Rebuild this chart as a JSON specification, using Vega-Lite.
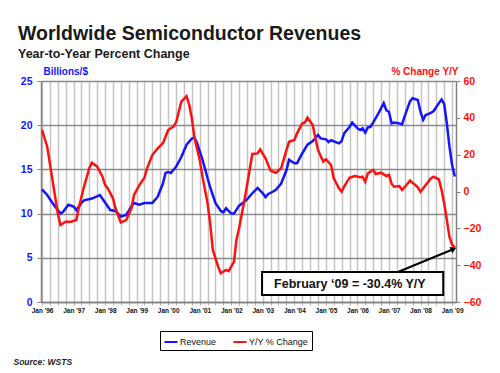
{
  "$schema": "https://vega.github.io/schema/vega-lite/v6.json",
  "width": 415,
  "height": 221,
  "autosize": "none",
  "padding": {"left": 41, "top": 81, "right": 44, "bottom": 71},
  "background": "white",
  "config": {
    "font": "Liberation Sans",
    "view": {"stroke": null},
    "axis": {"labelFont": "Liberation Sans", "titleFont": "Liberation Sans"},
    "axisRight": {
      "values": [-60, -40, -20, 0, 20, 40, 60],
      "grid": false,
      "domainColor": "#808080",
      "domainWidth": 1.5,
      "tickColor": "#808080",
      "tickSize": 4,
      "labelColor": "#ff1010",
      "labelFontSize": 10.5,
      "labelFontWeight": "bold",
      "labelPadding": 3,
      "labelOverlap": false,
      "titleAngle": 0,
      "titleAlign": "right",
      "titleBaseline": "alphabetic",
      "titleX": 2,
      "titleY": -7,
      "titleColor": "#ff1010",
      "titleFontSize": 10,
      "titleFontWeight": "bold"
    }
  },
  "title": {
    "text": "Worldwide Semiconductor Revenues",
    "subtitle": "Year-to-Year Percent Change",
    "anchor": "start",
    "frame": "group",
    "dx": -23,
    "offset": 5,
    "font": "Liberation Sans",
    "fontSize": 19.5,
    "fontWeight": "bold",
    "color": "#1a1a1a",
    "subtitleFont": "Liberation Sans",
    "subtitleFontSize": 12.5,
    "subtitleFontWeight": "bold",
    "subtitleColor": "#1a1a1a",
    "subtitlePadding": 3
  },
  "datasets": {
    "revenue": [
      {"date": "1996-01-01", "v": 12.75}, {"date": "1996-03-01", "v": 12.1}, {"date": "1996-05-01", "v": 11.2},
      {"date": "1996-08-01", "v": 10.0}, {"date": "1996-09-01", "v": 10.2}, {"date": "1996-11-01", "v": 11.0},
      {"date": "1997-01-01", "v": 10.8}, {"date": "1997-02-01", "v": 10.4}, {"date": "1997-04-01", "v": 11.2},
      {"date": "1997-05-01", "v": 11.5}, {"date": "1997-08-01", "v": 11.7}, {"date": "1997-11-01", "v": 12.1},
      {"date": "1998-02-01", "v": 10.8}, {"date": "1998-03-01", "v": 10.4}, {"date": "1998-05-01", "v": 10.3},
      {"date": "1998-07-01", "v": 9.65}, {"date": "1998-09-01", "v": 9.84}, {"date": "1998-11-01", "v": 10.8},
      {"date": "1998-12-01", "v": 11.2}, {"date": "1999-02-01", "v": 11.0}, {"date": "1999-04-01", "v": 11.2},
      {"date": "1999-07-01", "v": 11.2}, {"date": "1999-09-01", "v": 11.9}, {"date": "1999-11-01", "v": 13.4},
      {"date": "1999-12-01", "v": 14.6}, {"date": "2000-01-01", "v": 14.7}, {"date": "2000-02-01", "v": 14.6},
      {"date": "2000-04-01", "v": 15.3}, {"date": "2000-06-01", "v": 16.4}, {"date": "2000-08-01", "v": 17.8},
      {"date": "2000-10-01", "v": 18.5}, {"date": "2000-11-01", "v": 18.6}, {"date": "2000-12-01", "v": 17.95},
      {"date": "2001-02-01", "v": 16.1}, {"date": "2001-04-01", "v": 14.0}, {"date": "2001-05-01", "v": 13.0},
      {"date": "2001-07-01", "v": 11.2}, {"date": "2001-09-01", "v": 10.3}, {"date": "2001-10-01", "v": 10.15},
      {"date": "2001-11-01", "v": 10.6}, {"date": "2002-01-01", "v": 10.0}, {"date": "2002-02-01", "v": 10.0},
      {"date": "2002-04-01", "v": 10.9}, {"date": "2002-06-01", "v": 11.35}, {"date": "2002-07-01", "v": 11.6},
      {"date": "2002-09-01", "v": 12.3}, {"date": "2002-11-01", "v": 12.9}, {"date": "2003-01-01", "v": 12.3},
      {"date": "2003-02-01", "v": 11.85}, {"date": "2003-03-01", "v": 12.2}, {"date": "2003-05-01", "v": 12.5},
      {"date": "2003-06-01", "v": 12.7}, {"date": "2003-08-01", "v": 13.4}, {"date": "2003-10-01", "v": 14.9},
      {"date": "2003-11-01", "v": 16.1}, {"date": "2004-01-01", "v": 15.7}, {"date": "2004-02-01", "v": 15.7},
      {"date": "2004-04-01", "v": 16.8}, {"date": "2004-06-01", "v": 17.8}, {"date": "2004-08-01", "v": 18.2},
      {"date": "2004-10-01", "v": 18.9}, {"date": "2004-11-01", "v": 18.5}, {"date": "2005-01-01", "v": 18.4},
      {"date": "2005-02-01", "v": 18.1}, {"date": "2005-03-01", "v": 18.3}, {"date": "2005-06-01", "v": 17.95},
      {"date": "2005-07-01", "v": 18.2}, {"date": "2005-08-01", "v": 19.1}, {"date": "2005-10-01", "v": 19.8},
      {"date": "2005-11-01", "v": 20.3}, {"date": "2006-01-01", "v": 19.65}, {"date": "2006-02-01", "v": 19.45},
      {"date": "2006-03-01", "v": 19.65}, {"date": "2006-04-01", "v": 19.15}, {"date": "2006-05-01", "v": 19.75},
      {"date": "2006-06-01", "v": 19.8}, {"date": "2006-07-01", "v": 20.3}, {"date": "2006-09-01", "v": 21.35},
      {"date": "2006-11-01", "v": 22.5}, {"date": "2006-12-01", "v": 21.7}, {"date": "2007-01-01", "v": 21.5},
      {"date": "2007-02-01", "v": 20.2}, {"date": "2007-03-01", "v": 20.3}, {"date": "2007-05-01", "v": 20.2},
      {"date": "2007-06-01", "v": 20.1}, {"date": "2007-07-01", "v": 21.0}, {"date": "2007-09-01", "v": 22.7},
      {"date": "2007-10-01", "v": 23.05}, {"date": "2007-12-01", "v": 22.85}, {"date": "2008-01-01", "v": 21.5},
      {"date": "2008-02-01", "v": 20.6}, {"date": "2008-03-01", "v": 21.15}, {"date": "2008-05-01", "v": 21.4},
      {"date": "2008-06-01", "v": 21.6}, {"date": "2008-08-01", "v": 22.5}, {"date": "2008-09-01", "v": 22.9},
      {"date": "2008-10-01", "v": 22.4}, {"date": "2008-11-01", "v": 20.2}, {"date": "2008-12-01", "v": 17.6},
      {"date": "2009-01-01", "v": 15.5}, {"date": "2009-02-01", "v": 14.2}
    ],
    "yoy": [
      {"date": "1996-01-01", "v": 33.4}, {"date": "1996-03-01", "v": 24.3}, {"date": "1996-05-01", "v": 6.2},
      {"date": "1996-07-01", "v": -11.8}, {"date": "1996-08-01", "v": -18.2}, {"date": "1996-10-01", "v": -16.4},
      {"date": "1996-12-01", "v": -16.4}, {"date": "1997-02-01", "v": -15.5}, {"date": "1997-03-01", "v": -9.0},
      {"date": "1997-05-01", "v": 2.6}, {"date": "1997-07-01", "v": 12.6}, {"date": "1997-08-01", "v": 15.6},
      {"date": "1997-10-01", "v": 13.5}, {"date": "1997-12-01", "v": 8.0}, {"date": "1998-01-01", "v": 3.5},
      {"date": "1998-02-01", "v": 1.7}, {"date": "1998-04-01", "v": -3.7}, {"date": "1998-05-01", "v": -9.1},
      {"date": "1998-07-01", "v": -16.9}, {"date": "1998-09-01", "v": -15.5}, {"date": "1998-11-01", "v": -9.1},
      {"date": "1998-12-01", "v": -1.9}, {"date": "1999-02-01", "v": 3.5}, {"date": "1999-04-01", "v": 7.5},
      {"date": "1999-05-01", "v": 12.6}, {"date": "1999-07-01", "v": 19.8}, {"date": "1999-09-01", "v": 23.5},
      {"date": "1999-11-01", "v": 26.2}, {"date": "2000-01-01", "v": 33.4}, {"date": "2000-03-01", "v": 35.2},
      {"date": "2000-04-01", "v": 37.5}, {"date": "2000-06-01", "v": 48.8}, {"date": "2000-08-01", "v": 51.8},
      {"date": "2000-09-01", "v": 47.0}, {"date": "2000-10-01", "v": 39.7}, {"date": "2000-11-01", "v": 28.9},
      {"date": "2001-01-01", "v": 17.0}, {"date": "2001-02-01", "v": 8.0}, {"date": "2001-04-01", "v": -6.4},
      {"date": "2001-05-01", "v": -17.3}, {"date": "2001-06-01", "v": -31.8}, {"date": "2001-08-01", "v": -40.8},
      {"date": "2001-09-01", "v": -44.4}, {"date": "2001-11-01", "v": -42.6}, {"date": "2001-12-01", "v": -43.2},
      {"date": "2002-02-01", "v": -38.1}, {"date": "2002-03-01", "v": -26.3}, {"date": "2002-04-01", "v": -20.0},
      {"date": "2002-06-01", "v": -5.0}, {"date": "2002-08-01", "v": 11.7}, {"date": "2002-09-01", "v": 20.4},
      {"date": "2002-11-01", "v": 20.7}, {"date": "2002-12-01", "v": 22.9}, {"date": "2003-02-01", "v": 18.0},
      {"date": "2003-04-01", "v": 11.3}, {"date": "2003-06-01", "v": 10.2}, {"date": "2003-08-01", "v": 12.6},
      {"date": "2003-10-01", "v": 22.5}, {"date": "2003-11-01", "v": 27.0}, {"date": "2004-01-01", "v": 28.0},
      {"date": "2004-02-01", "v": 31.6}, {"date": "2004-04-01", "v": 37.0}, {"date": "2004-05-01", "v": 37.4},
      {"date": "2004-06-01", "v": 40.1}, {"date": "2004-08-01", "v": 36.1}, {"date": "2004-09-01", "v": 28.9},
      {"date": "2004-10-01", "v": 22.5}, {"date": "2004-12-01", "v": 16.2}, {"date": "2005-01-01", "v": 17.5},
      {"date": "2005-03-01", "v": 14.4}, {"date": "2005-04-01", "v": 7.2}, {"date": "2005-06-01", "v": 1.7},
      {"date": "2005-07-01", "v": -0.1}, {"date": "2005-08-01", "v": 2.8}, {"date": "2005-10-01", "v": 7.5},
      {"date": "2005-12-01", "v": 8.4}, {"date": "2006-02-01", "v": 7.7}, {"date": "2006-03-01", "v": 8.0},
      {"date": "2006-04-01", "v": 5.3}, {"date": "2006-05-01", "v": 9.9}, {"date": "2006-07-01", "v": 11.7},
      {"date": "2006-08-01", "v": 9.5}, {"date": "2006-10-01", "v": 10.2}, {"date": "2006-12-01", "v": 8.4},
      {"date": "2007-01-01", "v": 9.0}, {"date": "2007-02-01", "v": 4.1}, {"date": "2007-03-01", "v": 2.6},
      {"date": "2007-05-01", "v": 3.0}, {"date": "2007-06-01", "v": 0.8}, {"date": "2007-08-01", "v": 4.1},
      {"date": "2007-09-01", "v": 5.9}, {"date": "2007-11-01", "v": 3.5}, {"date": "2007-12-01", "v": 2.3},
      {"date": "2008-01-01", "v": -0.1}, {"date": "2008-03-01", "v": 3.5}, {"date": "2008-05-01", "v": 7.2},
      {"date": "2008-06-01", "v": 8.0}, {"date": "2008-08-01", "v": 6.6}, {"date": "2008-09-01", "v": 0.8},
      {"date": "2008-10-01", "v": -6.4}, {"date": "2008-11-01", "v": -15.5}, {"date": "2008-12-01", "v": -24.5},
      {"date": "2009-01-01", "v": -29.0}, {"date": "2009-02-01", "v": -30.4}
    ],
    "one": [{}]
  },
  "layer": [
    {
      "data": {"name": "revenue"},
      "mark": {"type": "line", "strokeWidth": 2.5},
      "encoding": {
        "x": {
          "field": "date",
          "type": "temporal",
          "scale": {
            "type": "utc",
            "domain": [
              {"year": 1995, "month": 12, "date": 20, "utc": true},
              {"year": 2009, "month": 2, "date": 15, "utc": true}
            ]
          },
          "axis": {
            "tickCount": {"interval": "month", "step": 3},
            "grid": true,
            "gridColor": "#c4c4c4",
            "gridWidth": 1.5,
            "domainColor": "#808080",
            "domainWidth": 1.5,
            "tickColor": "#b0b0b0",
            "tickSize": 3,
            "labelExpr": "utcmonth(datum.value) == 0 ? utcFormat(datum.value, \"%b '%y\") : ''",
            "labelOverlap": false,
            "labelFlush": false,
            "labelFontSize": 6.5,
            "labelFontWeight": "bold",
            "labelColor": "#111111",
            "labelPadding": 2,
            "title": "Source: WSTS",
            "titleX": -28,
            "titleY": 62,
            "titleAlign": "left",
            "titleBaseline": "alphabetic",
            "titleFontSize": 8.5,
            "titleFontStyle": "italic",
            "titleFontWeight": "bold",
            "titleColor": "#222222"
          }
        },
        "y": {
          "field": "v",
          "type": "quantitative",
          "scale": {"domain": [0, 25], "nice": false, "zero": false},
          "axis": {
            "values": [0, 5, 10, 15, 20, 25],
            "grid": true,
            "gridColor": "#8a8a8a",
            "gridWidth": 1.5,
            "domainColor": "#808080",
            "domainWidth": 1.5,
            "tickColor": "#808080",
            "tickSize": 4,
            "labelColor": "#1414ff",
            "labelFontSize": 10.5,
            "labelFontWeight": "bold",
            "labelPadding": 5,
            "labelOverlap": false,
            "title": "Billions/$",
            "titleAngle": 0,
            "titleAlign": "left",
            "titleBaseline": "alphabetic",
            "titleX": 2,
            "titleY": -7,
            "titleColor": "#1414ff",
            "titleFontSize": 10,
            "titleFontWeight": "bold"
          }
        },
        "color": {
          "datum": "Revenue",
          "type": "nominal",
          "scale": {"domain": ["Revenue", "Y/Y % Change"], "range": ["#1414ff", "#ff1010"]},
          "legend": {
            "orient": "none",
            "legendX": 119,
            "legendY": 250,
            "direction": "horizontal",
            "title": null,
            "strokeColor": "#000000",
            "fillColor": "#ffffff",
            "padding": 3,
            "symbolType": "stroke",
            "symbolStrokeWidth": 2,
            "symbolSize": 170,
            "labelFontSize": 9,
            "labelColor": "#111111",
            "labelOffset": 1,
            "columnPadding": 12
          }
        }
      }
    },
    {
      "layer": [
        {
          "data": {"name": "yoy"},
          "mark": {"type": "line", "strokeWidth": 2.5},
          "encoding": {
            "x": {"field": "date", "type": "temporal"},
            "y": {
              "field": "v",
              "type": "quantitative",
              "scale": {"domain": [-60, 60], "nice": false, "zero": false},
              "axis": {"orient": "right", "title": "% Change Y/Y", "values": [-60, -40, -20, 0, 20, 40, 60], "labelOverlap": false}
            },
            "color": {"datum": "Y/Y % Change", "type": "nominal"}
          }
        },
        {
          "data": {"name": "one"},
          "mark": {"type": "rect", "fill": "#ffffff", "stroke": "#000000", "strokeWidth": 2},
          "encoding": {
            "x": {"datum": {"year": 2002, "month": 12, "date": 23, "utc": true}, "type": "temporal"},
            "x2": {"datum": {"year": 2008, "month": 9, "date": 20, "utc": true}},
            "y": {"datum": -43.7, "type": "quantitative", "axis": {"orient": "right", "title": "% Change Y/Y", "values": [-60, -40, -20, 0, 20, 40, 60], "labelOverlap": false}},
            "y2": {"datum": -56.2}
          }
        },
        {
          "data": {"name": "one"},
          "mark": {"type": "text", "text": "February \u201809 = -30.4% Y/Y", "fontSize": 12.5, "fontWeight": "bold", "color": "#111111", "baseline": "middle", "align": "center"},
          "encoding": {
            "x": {"datum": {"year": 2005, "month": 10, "date": 5, "utc": true}, "type": "temporal"},
            "y": {"datum": -50, "type": "quantitative", "axis": {"orient": "right", "title": "% Change Y/Y", "values": [-60, -40, -20, 0, 20, 40, 60], "labelOverlap": false}}
          }
        },
        {
          "data": {"name": "one"},
          "mark": {"type": "rule", "stroke": "#000000", "strokeWidth": 2},
          "encoding": {
            "x": {"datum": {"year": 2007, "month": 4, "date": 14, "utc": true}, "type": "temporal"},
            "x2": {"datum": {"year": 2009, "month": 1, "date": 20, "utc": true}},
            "y": {"datum": -43.7, "type": "quantitative", "axis": {"orient": "right", "title": "% Change Y/Y", "values": [-60, -40, -20, 0, 20, 40, 60], "labelOverlap": false}},
            "y2": {"datum": -31.2}
          }
        },
        {
          "data": {"name": "one"},
          "mark": {"type": "point", "shape": "triangle-up", "filled": true, "color": "#000000", "opacity": 1, "size": 45, "angle": 66},
          "encoding": {
            "x": {"datum": {"year": 2009, "month": 1, "date": 18, "utc": true}, "type": "temporal"},
            "y": {"datum": -31.2, "type": "quantitative", "axis": {"orient": "right", "title": "% Change Y/Y", "values": [-60, -40, -20, 0, 20, 40, 60], "labelOverlap": false}}
          }
        }
      ]
    }
  ],
  "resolve": {"scale": {"y": "independent"}}
}
